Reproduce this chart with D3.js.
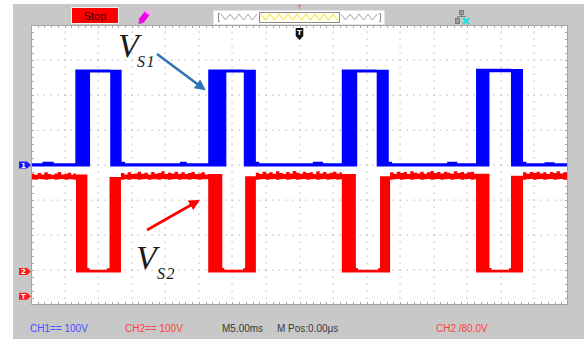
<!DOCTYPE html>
<html>
<head>
<meta charset="utf-8">
<script src="https://cdn.jsdelivr.net/npm/d3@7"></script>
<style>
  html, body { margin: 0; padding: 0; background: #fff; overflow: hidden; }
  svg { display: block; }
</style>
</head>
<body>
<svg id="scope" width="584" height="339"></svg>
<script>
// ---- Acquisition settings ----
const timeDivMs = 5;          // M 5.00 ms / div
const timeDivs = 16;          // horizontal divisions, trigger point at centre
const voltDivs = 8;           // vertical divisions
const ch1VoltsPerDiv = 100;   // CH1 100 V / div
const ch2VoltsPerDiv = 100;   // CH2 100 V / div
const ch1OffsetDiv = 0;       // CH1 ground level, divisions from centre
const ch2OffsetDiv = -3.04;   // CH2 ground level, divisions from centre
const trigMarkerDiv = -3.75;  // trigger marker on the left edge

// ---- Channel envelopes (peak detect): [start ms, min V, max V], held until next entry ----
const ch1Envelope = [
  [-40, -4, 5], [-38.3, -4, 9], [-36.6, -4, 5],
  [-33.4, -4, 273], [-31.2, 264, 273], [-28.2, -4, 272],
  [-26.5, -4, 9], [-26.0, -4, 5], [-17.8, -4, 9], [-16.8, -4, 5],
  [-13.6, -4, 273], [-10.9, 264, 273], [-8.3, -4, 272],
  [-6.5, -4, 9], [-6.0, -4, 5], [2.0, -4, 9], [3.5, -4, 5],
  [6.3, -4, 273], [8.6, 264, 273], [11.5, -4, 272],
  [13.3, -4, 9], [13.8, -4, 5], [22.0, -4, 9], [23.5, -4, 5],
  [26.3, -4, 275], [28.3, 265, 275], [31.5, -4, 274],
  [33.3, -4, 9], [33.8, -4, 5], [36.5, -4, 8], [38.0, -4, 5],
  [40, -4, 5]
];

const ch2Envelope = [
  [-40, 263, 279], [-39.5, 262, 276], [-39, 264, 281], [-38.5, 263, 277],
  [-38, 262, 283], [-37.5, 263, 278], [-37, 264, 276], [-36.5, 262, 280],
  [-36, 263, 284], [-35.5, 264, 277], [-35, 262, 279], [-34.5, 263, 282],
  [-34, 263, 276], [-33.7, 262, 280],
  [-33.3, -3, 277], [-31.6, -3, 10], [-31.3, -3, 5], [-28.7, -3, 9], [-28.3, -3, 270],
  [-26.6, 262, 281], [-26.1, 263, 277], [-25.6, 262, 283], [-25.1, 264, 278],
  [-24.6, 263, 280], [-24.1, 262, 285], [-23.6, 263, 279], [-23.1, 264, 282],
  [-22.6, 262, 277], [-22.1, 263, 284], [-21.6, 263, 279], [-21.1, 262, 281],
  [-20.6, 264, 286], [-20.1, 263, 278], [-19.6, 262, 282], [-19.1, 263, 280],
  [-18.6, 264, 285], [-18.1, 262, 279], [-17.6, 263, 283], [-17.1, 263, 278],
  [-16.6, 262, 281], [-16.1, 264, 284], [-15.6, 263, 278], [-15.1, 262, 280],
  [-14.6, 263, 283], [-14.1, 263, 277],
  [-13.6, -3, 278], [-11.5, -3, 10], [-11.2, -3, 5], [-8.4, -3, 9], [-8.1, -3, 272],
  [-6.5, 262, 282], [-6.0, 263, 278], [-5.5, 264, 285], [-5.0, 262, 280],
  [-4.5, 263, 283], [-4.0, 264, 279], [-3.5, 262, 286], [-3.0, 263, 281],
  [-2.5, 264, 278], [-2.0, 262, 284], [-1.5, 263, 280], [-1.0, 264, 287],
  [-0.5, 262, 282], [0.0, 263, 279], [0.5, 264, 285], [1.0, 262, 281],
  [1.5, 263, 283], [2.0, 264, 278], [2.5, 262, 286], [3.0, 263, 280],
  [3.5, 264, 284], [4.0, 262, 279], [4.5, 263, 282], [5.0, 264, 285],
  [5.5, 262, 280], [6.0, 263, 283],
  [6.3, -3, 278], [8.4, -3, 10], [8.7, -3, 5], [11.7, -3, 9], [12.0, -3, 272],
  [13.5, 262, 283], [14.0, 263, 279], [14.5, 264, 285], [15.0, 262, 281],
  [15.5, 263, 284], [16.0, 264, 278], [16.5, 262, 286], [17.0, 263, 282],
  [17.5, 264, 280], [18.0, 262, 285], [18.5, 263, 279], [19.0, 264, 283],
  [19.5, 262, 287], [20.0, 263, 281], [20.5, 264, 284], [21.0, 262, 280],
  [21.5, 263, 285], [22.0, 264, 282], [22.5, 262, 279], [23.0, 263, 286],
  [23.5, 264, 281], [24.0, 262, 284], [24.5, 263, 280], [25.0, 264, 283],
  [25.5, 262, 285], [26.0, 263, 279],
  [26.3, -3, 279], [28.3, -3, 10], [28.6, -3, 5], [31.2, -3, 9], [31.5, -3, 273],
  [33.3, 262, 283], [33.8, 263, 279], [34.3, 264, 284], [34.8, 262, 281],
  [35.3, 263, 285], [35.8, 264, 280], [36.3, 262, 283], [36.8, 263, 278],
  [37.3, 264, 284], [37.8, 262, 281], [38.3, 263, 286], [38.8, 264, 280],
  [39.3, 262, 283], [39.8, 263, 282],
  [40, 263, 282]
];

// ---- Readouts ----
const readoutTexts = ["CH1== 100V", "CH2== 100V", "M5.00ms", "M Pos:0.00\u03bcs", "CH2 /80.0V"];
const readoutColors = ["#4b4bff", "#ff4040", "#3a3a3a", "#3a3a3a", "#ff4040"];
const channelLabels = ["1", "2", "T"];
const waveLabels = ["S1", "S2"];

// ---- Layout ----
const W = 584, H = 339;
const plot = { left: 31, right: 568, top: 25, bottom: 305 };
const svg = d3.select("#scope");

svg.append("rect").attr("width", W).attr("height", H).attr("fill", "#fff");
svg.append("rect").attr("x", 13).attr("y", 4).attr("width", W - 13).attr("height", H - 4).attr("fill", "#c8c8c8");

const halfT = timeDivs / 2 * timeDivMs;
const x = d3.scaleLinear().domain([-halfT, halfT]).range([plot.left, plot.right]);
const yDiv = d3.scaleLinear().domain([-voltDivs / 2, voltDivs / 2]).range([plot.bottom, plot.top]);
const y1 = d3.scaleLinear()
  .domain([(-voltDivs / 2 - ch1OffsetDiv) * ch1VoltsPerDiv, (voltDivs / 2 - ch1OffsetDiv) * ch1VoltsPerDiv])
  .range([plot.bottom, plot.top]);
const y2 = d3.scaleLinear()
  .domain([(-voltDivs / 2 - ch2OffsetDiv) * ch2VoltsPerDiv, (voltDivs / 2 - ch2OffsetDiv) * ch2VoltsPerDiv])
  .range([plot.bottom, plot.top]);

// ---- Screen ----
svg.append("rect")
  .attr("x", plot.left + 0.5).attr("y", plot.top + 0.5)
  .attr("width", plot.right - plot.left - 1).attr("height", plot.bottom - plot.top - 1)
  .attr("fill", "#fff").attr("stroke", "#a4a4a4").attr("stroke-width", 1);

const grid = svg.append("g").attr("fill", "#b4b4b4");
const vLines = d3.range(-halfT + timeDivMs, halfT, timeDivMs);
const hLines = d3.range(-voltDivs / 2 + 1, voltDivs / 2, 1);
const minorV = d3.range(-voltDivs / 2 + 0.2, voltDivs / 2 - 0.1, 0.2);
const minorT = d3.range(-halfT + 1, halfT - 0.5, 1);

vLines.forEach(t => {
  grid.selectAll(null).data(minorV).join("rect")
    .attr("x", Math.round(x(t)) - 0.5).attr("y", d => Math.round(yDiv(d)) - 0.5)
    .attr("width", 1.2).attr("height", 1.2);
});
hLines.forEach(dv => {
  grid.selectAll(null).data(minorT).join("rect")
    .attr("x", d => Math.round(x(d)) - 0.5).attr("y", Math.round(yDiv(dv)) - 0.5)
    .attr("width", 1.2).attr("height", 1.2);
});

// border ticks
const ticks = svg.append("g").attr("stroke", "#a8a8a8").attr("stroke-width", 1);
minorT.forEach(t => {
  const xx = Math.round(x(t)) + 0.5;
  ticks.append("line").attr("x1", xx).attr("x2", xx).attr("y1", plot.top + 1).attr("y2", plot.top + 3);
  ticks.append("line").attr("x1", xx).attr("x2", xx).attr("y1", plot.bottom - 1).attr("y2", plot.bottom - 3);
});
minorV.forEach(dv => {
  const yy = Math.round(yDiv(dv)) + 0.5;
  ticks.append("line").attr("x1", plot.left + 1).attr("x2", plot.left + 3).attr("y1", yy).attr("y2", yy);
  ticks.append("line").attr("x1", plot.right - 1).attr("x2", plot.right - 3).attr("y1", yy).attr("y2", yy);
});

// ---- Waveforms ----
svg.append("clipPath").attr("id", "screenClip")
  .append("rect").attr("x", plot.left + 1).attr("y", plot.top + 1)
  .attr("width", plot.right - plot.left - 2).attr("height", plot.bottom - plot.top - 2);

const waves = svg.append("g").attr("clip-path", "url(#screenClip)");
const envArea = yScale => d3.area()
  .x(d => x(d[0]))
  .y0(d => yScale(d[1]))
  .y1(d => yScale(d[2]))
  .curve(d3.curveStepAfter);

waves.append("path").datum(ch2Envelope).attr("d", envArea(y2)).attr("fill", "#ff0000");
waves.append("path").datum(ch1Envelope).attr("d", envArea(y1)).attr("fill", "#0000ff");

// ---- Channel markers ----
const markerDivs = [ch1OffsetDiv, ch2OffsetDiv, trigMarkerDiv];
const markerColors = ["#1a1aff", "#ff1a1a", "#ff1a1a"];
const markers = svg.append("g");
markerDivs.forEach((dv, i) => {
  const yy = yDiv(dv);
  markers.append("path")
    .attr("d", `M19,${yy - 3.5}L27,${yy - 3.5}L31,${yy}L27,${yy + 3.5}L19,${yy + 3.5}Z`)
    .attr("fill", markerColors[i]);
  markers.append("text")
    .attr("x", 23.5).attr("y", yy + 2.6)
    .attr("text-anchor", "middle")
    .attr("font-family", "DejaVu Sans, sans-serif").attr("font-size", 7).attr("font-weight", "bold")
    .attr("fill", "#fff").text(channelLabels[i]);
});

// trigger position marker on top edge
const tx = x(0);
svg.append("path")
  .attr("d", `M${tx - 3.8},28L${tx + 3.8},28L${tx + 3.8},36L${tx},40L${tx - 3.8},36Z`)
  .attr("fill", "#111");
svg.append("text").attr("x", tx).attr("y", 35)
  .attr("text-anchor", "middle").attr("font-family", "DejaVu Sans, sans-serif")
  .attr("font-size", 7).attr("font-weight", "bold").attr("fill", "#fff").text("T");

// ---- Top status bar ----
svg.append("rect").attr("x", 71.5).attr("y", 7.5).attr("width", 47).attr("height", 16)
  .attr("fill", "#ff0000").attr("stroke", "#f2f2f2").attr("stroke-width", 1);
svg.append("text").attr("x", 95).attr("y", 20)
  .attr("text-anchor", "middle").attr("font-family", "Liberation Sans, Arial, sans-serif")
  .attr("font-size", 11).attr("fill", "#3a0000").text("Stop");

// probe pen icon
const pen = svg.append("g").attr("transform", "translate(145,16) rotate(-52)");
pen.append("rect").attr("x", -7).attr("y", -3).attr("width", 12).attr("height", 6).attr("rx", 1.5).attr("fill", "#ee00ee");
pen.append("path").attr("d", "M-7,-2.5L-10,0L-7,2.5Z").attr("fill", "#ee00ee");
pen.append("rect").attr("x", 3).attr("y", -3).attr("width", 4).attr("height", 6).attr("rx", 1.5).attr("fill", "#ff9cff");

// memory / timebase bar
const bar = svg.append("g");
bar.append("rect").attr("x", 213.5).attr("y", 10.5).attr("width", 171).attr("height", 14)
  .attr("fill", "#fff").attr("stroke", "#e4e4e4");
const zig = (x0, x1, step) => {
  const pts = [];
  let up = true;
  for (let xx = x0; xx <= x1; xx += step / 2) { pts.push([xx, up ? 14 : 20]); up = !up; }
  return pts;
};
bar.append("path").attr("d", "M220,13.5L218.5,13.5L218.5,21.5L220,21.5").attr("fill", "none").attr("stroke", "#888");
bar.append("path").attr("d", "M379,13.5L380.5,13.5L380.5,21.5L379,21.5").attr("fill", "none").attr("stroke", "#888");
bar.append("path").attr("d", d3.line()(zig(221, 259, 9))).attr("fill", "none").attr("stroke", "#999").attr("stroke-width", 0.9);
bar.append("path").attr("d", d3.line()(zig(341, 378, 9))).attr("fill", "none").attr("stroke", "#999").attr("stroke-width", 0.9);
bar.append("rect").attr("x", 259.5).attr("y", 12.5).attr("width", 80).attr("height", 10)
  .attr("fill", "#fffef0").attr("stroke", "#8c8c8c");
bar.append("path").attr("d", d3.line()(zig(261, 338, 9))).attr("fill", "none").attr("stroke", "#f0e020").attr("stroke-width", 1);
bar.append("text").attr("x", tx).attr("y", 9).attr("text-anchor", "middle")
  .attr("font-family", "DejaVu Sans, sans-serif").attr("font-size", 5).attr("fill", "#ff2020").text("T");

// USB / network icon
const net = svg.append("g").attr("fill", "#9a9a9a").attr("stroke", "#6e6e6e").attr("stroke-width", 0.8);
net.append("rect").attr("x", 459.5).attr("y", 10.5).attr("width", 4).attr("height", 4);
net.append("rect").attr("x", 455.5).attr("y", 18.5).attr("width", 4).attr("height", 5);
net.append("path").attr("d", "M461.5,14.5L461.5,17M457.5,18.5L457.5,16.5L466,16.5").attr("fill", "none");
svg.append("path").attr("d", "M463,18L469,24M469,18L463,24").attr("stroke", "#19e3e3").attr("stroke-width", 2);

// ---- Bottom readouts ----
const readoutX = [30, 125, 222, 277, 436];
svg.append("g").selectAll("text").data(readoutTexts).join("text")
  .attr("x", (d, i) => readoutX[i]).attr("y", 332)
  .attr("font-family", "Liberation Sans, Arial, sans-serif").attr("font-size", 10)
  .attr("fill", (d, i) => readoutColors[i]).text(d => d);

// ---- Waveform annotations ----
const labelPos = [
  { vx: 118, vy: 57, sx: 137, sy: 67, arrow: [[157, 54], [204, 89]], color: "#2e75b6" },
  { vx: 136, vy: 269, sx: 157, sy: 279, arrow: [[147, 230], [198, 201]], color: "#ff0000" }
];
const defs = svg.append("defs");
labelPos.forEach((p, i) => {
  defs.append("marker").attr("id", "head" + i)
    .attr("viewBox", "0 0 10 10").attr("refX", 8).attr("refY", 5)
    .attr("markerWidth", 4.2).attr("markerHeight", 4.2).attr("markerUnits", "strokeWidth")
    .attr("orient", "auto")
    .append("path").attr("d", "M0,0L10,5L0,10Z").attr("fill", p.color);
  svg.append("line")
    .attr("x1", p.arrow[0][0]).attr("y1", p.arrow[0][1])
    .attr("x2", p.arrow[1][0]).attr("y2", p.arrow[1][1])
    .attr("stroke", p.color).attr("stroke-width", 2.6)
    .attr("marker-end", `url(#head${i})`);
  svg.append("text").attr("x", p.vx).attr("y", p.vy)
    .attr("font-family", "Liberation Serif, Times New Roman, serif").attr("font-style", "italic")
    .attr("font-size", 34).attr("fill", "#1a1a1a").text("V");
  svg.append("text").attr("x", p.sx).attr("y", p.sy)
    .attr("font-family", "Liberation Serif, Times New Roman, serif").attr("font-style", "italic")
    .attr("font-size", 16).attr("letter-spacing", 1.5).attr("fill", "#1a1a1a").text(waveLabels[i]);
});
</script>
</body>
</html>
